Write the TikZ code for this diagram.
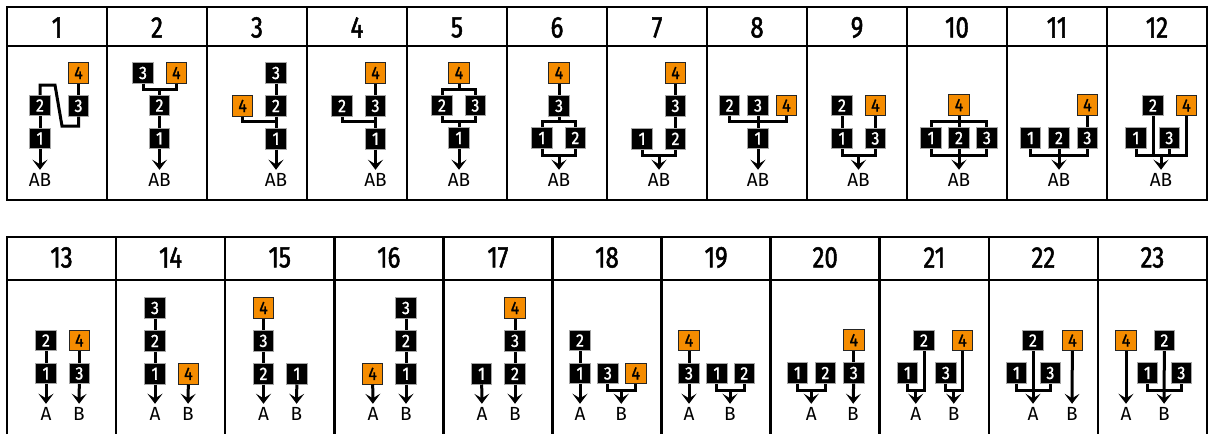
\documentclass[tikz,border=0pt]{standalone}
\usepackage{fontspec}
\setmainfont{Fira Sans}
\newfontfamily\hdfont[FakeStretch=0.8,FakeBold=1.6]{Fira Sans}
\newfontfamily\tilefont[FakeStretch=0.88,FakeBold=1.2]{Fira Sans}
\usepackage{tikz}
\usepackage{xcolor}
\usetikzlibrary{positioning,arrows.meta}
\definecolor{tileorange}{RGB}{245,140,0}

\begin{document}
\begin{tikzpicture}[
  x=1pt, y=-1pt,
  node distance=11.5pt and 12pt,
  rule/.style={line width=2.6pt, black},
  hd/.style={font=\hdfont\fontsize{30}{30}\selectfont, inner sep=0pt},
  blk/.style={rectangle, draw=gray!70, line width=0.9pt, fill=black, text=white, minimum size=20.5pt, inner sep=0pt, font=\tilefont\fontsize{18}{18}\selectfont},
  org/.style={blk, draw=black!85, fill=tileorange, text=black},
  wire/.style={line width=3pt, black},
  flow/.style={wire, -{Stealth[length=10pt,width=15pt,inset=4.5pt,line width=1pt]}},
  outlbl/.style={inner sep=3.5pt, font=\fontsize{19}{19}\selectfont}
]
\useasboundingbox (0,0) rectangle (1208,434);

% tables
\draw[rule] (7,7) rectangle (1207,200);
\draw[rule] (7,46) -- (1207,46);
\foreach \k in {1,...,11} \draw[rule] (7+100*\k,7) -- (7+100*\k,200);
\foreach \k in {1,...,12} \node[hd] (h\k) at (100*\k-43,27.5) {\k};
\draw[rule] (7,434) -- (7,237) -- (1207,237) -- (1207,434);
\draw[rule] (7,280) -- (1207,280);
\foreach \k in {1,...,10} \draw[rule] (7+109.0909*\k,237) -- (7+109.0909*\k,434);
\foreach \k in {13,...,23} \node[hd] (h\k) at (61.545+109.0909*\k-1418.18,257.5) {\k};

% 1
\node[org] (p1-4) at (78.5,73) {4};
\node[blk, below=of p1-4] (p1-3) {3};
\node[blk] (p1-2) at (40,105.5) {2};
\node[blk, below=of p1-2] (p1-1) {1};
\node[outlbl] (p1-o) at (40,180) {AB};
\draw[wire] (p1-4) -- (p1-3) (p1-2) -- (p1-1);
\draw[wire] (p1-2) |- (55,85) -- (62,126) -| (p1-3);
\draw[flow] (p1-1) -- (p1-o);

% 2
\node[blk] (p2-3) at (143,73) {3};
\node[org, right=of p2-3] (p2-4) {4};
\node[blk] (p2-2) at (159.5,105.5) {2};
\node[blk, below=of p2-2] (p2-1) {1};
\node[outlbl] (p2-o) at (159.5,180) {AB};
\coordinate (p2-t) at (159.5,89.25);
\draw[wire] (p2-3) |- (p2-t) -| (p2-4);
\draw[wire] (p2-t) -- (p2-2) (p2-2) -- (p2-1);
\draw[flow] (p2-1) -- (p2-o);

% 3
\node[blk] (p3-3) at (276,73) {3};
\node[blk, below=of p3-3] (p3-2) {2};
\node[blk, below=of p3-2] (p3-1) {1};
\node[org, left=of p3-2] (p3-4) {4};
\node[outlbl] (p3-o) at (276,180) {AB};
\coordinate (p3-t) at (276,121.75);
\draw[wire] (p3-3) -- (p3-2) (p3-2) -- (p3-1);
\draw[wire] (p3-4) |- (p3-t);
\draw[flow] (p3-1) -- (p3-o);

% 4
\node[org] (p4-4) at (375.5,73) {4};
\node[blk, below=of p4-4] (p4-3) {3};
\node[blk, below=of p4-3] (p4-1) {1};
\node[blk, left=of p4-3] (p4-2) {2};
\node[outlbl] (p4-o) at (375.5,180) {AB};
\coordinate (p4-t) at (375.5,121.75);
\draw[wire] (p4-4) -- (p4-3) (p4-3) -- (p4-1);
\draw[wire] (p4-2) |- (p4-t);
\draw[flow] (p4-1) -- (p4-o);

% 5
\node[org] (p5-4) at (459,73) {4};
\node[blk] (p5-2) at (442,105.5) {2};
\node[blk, right=of p5-2] (p5-3) {3};
\node[blk] (p5-1) at (459,138) {1};
\node[outlbl] (p5-o) at (459,180) {AB};
\coordinate (p5-t) at (459,89.25);
\coordinate (p5-u) at (459,121.75);
\draw[wire] (p5-4) -- (p5-t);
\draw[wire] (p5-2) |- (p5-t) -| (p5-3);
\draw[wire] (p5-2) |- (p5-u) -| (p5-3);
\draw[wire] (p5-u) -- (p5-1);
\draw[flow] (p5-1) -- (p5-o);

% 6
\node[org] (p6-4) at (559,73) {4};
\node[blk, below=of p6-4] (p6-3) {3};
\node[blk] (p6-1) at (542,138) {1};
\node[blk, right=of p6-1] (p6-2) {2};
\node[outlbl] (p6-o) at (559,180) {AB};
\coordinate (p6-t) at (559,121.75);
\coordinate (p6-u) at (559,155);
\draw[wire] (p6-4) -- (p6-3) (p6-3) -- (p6-t);
\draw[wire] (p6-1) |- (p6-t) -| (p6-2);
\draw[wire] (p6-1) |- (p6-u) -| (p6-2);
\draw[flow] (p6-u) -- (p6-o);

% 7
\node[org] (p7-4) at (675.5,73) {4};
\node[blk, below=of p7-4] (p7-3) {3};
\node[blk, below=of p7-3] (p7-2) {2};
\node[blk, left=of p7-2] (p7-1) {1};
\node[outlbl] (p7-o) at (659,180) {AB};
\coordinate (p7-u) at (659,155);
\draw[wire] (p7-4) -- (p7-3) (p7-3) -- (p7-2);
\draw[wire] (p7-1) |- (p7-u) -| (p7-2);
\draw[flow] (p7-u) -- (p7-o);

% 8
\node[blk] (p8-3) at (758,105.5) {3};
\node[blk, left=7pt of p8-3] (p8-2) {2};
\node[org, right=7pt of p8-3] (p8-4) {4};
\node[blk, below=of p8-3] (p8-1) {1};
\node[outlbl] (p8-o) at (758,180) {AB};
\coordinate (p8-t) at (758,121.75);
\draw[wire] (p8-2) |- (p8-t) -| (p8-4);
\draw[wire] (p8-3) -- (p8-1);
\draw[flow] (p8-1) -- (p8-o);

% 9
\node[blk] (p9-2) at (842,105.5) {2};
\node[org, right=of p9-2] (p9-4) {4};
\node[blk, below=of p9-2] (p9-1) {1};
\node[blk, below=of p9-4] (p9-3) {3};
\node[outlbl] (p9-o) at (858.5,180) {AB};
\coordinate (p9-u) at (858.5,155);
\draw[wire] (p9-2) -- (p9-1) (p9-4) -- (p9-3);
\draw[wire] (p9-1) |- (p9-u) -| (p9-3);
\draw[flow] (p9-u) -- (p9-o);

% 10
\node[blk] (p10-2) at (959,138) {2};
\node[blk, left=6.5pt of p10-2] (p10-1) {1};
\node[blk, right=6.5pt of p10-2] (p10-3) {3};
\node[org, above=of p10-2] (p10-4) {4};
\node[outlbl] (p10-o) at (959,180) {AB};
\coordinate (p10-t) at (959,121.75);
\coordinate (p10-u) at (959,155);
\draw[wire] (p10-4) -- (p10-2);
\draw[wire] (p10-1) |- (p10-t) -| (p10-3);
\draw[wire] (p10-1) |- (p10-u) -| (p10-3);
\draw[wire] (p10-2) -- (p10-u);
\draw[flow] (p10-u) -- (p10-o);

% 11
\node[blk] (p11-2) at (1059,138) {2};
\node[blk, left=7pt of p11-2] (p11-1) {1};
\node[blk, right=7pt of p11-2] (p11-3) {3};
\node[org, above=of p11-3] (p11-4) {4};
\node[outlbl] (p11-o) at (1059,180) {AB};
\coordinate (p11-u) at (1059,155);
\draw[wire] (p11-4) -- (p11-3);
\draw[wire] (p11-1) |- (p11-u) -| (p11-3);
\draw[wire] (p11-2) -- (p11-u);
\draw[flow] (p11-u) -- (p11-o);

% 12
\node[blk] (p12-2) at (1153,105.5) {2};
\node[org, right=of p12-2] (p12-4) {4};
\node[blk] (p12-1) at (1136,138) {1};
\node[blk, right=of p12-1] (p12-3) {3};
\node[outlbl] (p12-o) at (1161,180) {AB};
\coordinate (p12-u) at (1161,155);
\draw[wire] (p12-1) |- (p12-u) -| (p12-4);
\draw[wire] (p12-2) -- (p12-2 |- p12-u);
\draw[wire] (p12-3) -- (p12-3 |- p12-u);
\draw[flow] (p12-u) -- (p12-o);

% 13
\node[blk] (p13-2) at (46,340.5) {2};
\node[org, right=of p13-2] (p13-4) {4};
\node[blk, below=of p13-2] (p13-1) {1};
\node[blk, below=of p13-4] (p13-3) {3};
\node[outlbl] (p13-a) at (46,414) {A};
\node[outlbl] (p13-b) at (79,414) {B};
\draw[wire] (p13-2) -- (p13-1) (p13-4) -- (p13-3);
\draw[flow] (p13-1) -- (p13-a);
\draw[flow] (p13-3) -- (p13-b);

% 14
\node[blk] (p14-3) at (155,308) {3};
\node[blk, below=of p14-3] (p14-2) {2};
\node[blk, below=of p14-2] (p14-1) {1};
\node[org, right=of p14-1] (p14-4) {4};
\node[outlbl] (p14-a) at (155,414) {A};
\node[outlbl] (p14-b) at (188,414) {B};
\draw[wire] (p14-3) -- (p14-2) (p14-2) -- (p14-1);
\draw[flow] (p14-1) -- (p14-a);
\draw[flow] (p14-4) -- (p14-b);

% 15
\node[org] (p15-4) at (263.5,308) {4};
\node[blk, below=of p15-4] (p15-3) {3};
\node[blk, below=of p15-3] (p15-2) {2};
\node[blk, right=of p15-2] (p15-1) {1};
\node[outlbl] (p15-a) at (263.5,414) {A};
\node[outlbl] (p15-b) at (296.5,414) {B};
\draw[wire] (p15-4) -- (p15-3) (p15-3) -- (p15-2);
\draw[flow] (p15-2) -- (p15-a);
\draw[flow] (p15-1) -- (p15-b);

% 16
\node[blk] (p16-3) at (406,308) {3};
\node[blk, below=of p16-3] (p16-2) {2};
\node[blk, below=of p16-2] (p16-1) {1};
\node[org, left=of p16-1] (p16-4) {4};
\node[outlbl] (p16-a) at (373,414) {A};
\node[outlbl] (p16-b) at (406,414) {B};
\draw[wire] (p16-3) -- (p16-2) (p16-2) -- (p16-1);
\draw[flow] (p16-4) -- (p16-a);
\draw[flow] (p16-1) -- (p16-b);

% 17
\node[org] (p17-4) at (515,308) {4};
\node[blk, below=of p17-4] (p17-3) {3};
\node[blk, below=of p17-3] (p17-2) {2};
\node[blk, left=of p17-2] (p17-1) {1};
\node[outlbl] (p17-a) at (482,414) {A};
\node[outlbl] (p17-b) at (515,414) {B};
\draw[wire] (p17-4) -- (p17-3) (p17-3) -- (p17-2);
\draw[flow] (p17-1) -- (p17-a);
\draw[flow] (p17-2) -- (p17-b);

% 18
\node[blk] (p18-2) at (580,340.5) {2};
\node[blk, below=of p18-2] (p18-1) {1};
\node[blk, right=6.5pt of p18-1] (p18-3) {3};
\node[org, right=6.5pt of p18-3] (p18-4) {4};
\node[outlbl] (p18-a) at (580,414) {A};
\node[outlbl] (p18-b) at (621.25,414) {B};
\coordinate (p18-u) at (621.25,390);
\draw[wire] (p18-2) -- (p18-1);
\draw[wire] (p18-3) |- (p18-u) -| (p18-4);
\draw[flow] (p18-1) -- (p18-a);
\draw[flow] (p18-u) -- (p18-b);

% 19
\node[org] (p19-4) at (689,340.5) {4};
\node[blk, below=of p19-4] (p19-3) {3};
\node[blk, right=6.5pt of p19-3] (p19-1) {1};
\node[blk, right=6pt of p19-1] (p19-2) {2};
\node[outlbl] (p19-a) at (689,414) {A};
\node[outlbl] (p19-b) at (730,414) {B};
\coordinate (p19-u) at (730,390);
\draw[wire] (p19-4) -- (p19-3);
\draw[wire] (p19-1) |- (p19-u) -| (p19-2);
\draw[flow] (p19-3) -- (p19-a);
\draw[flow] (p19-u) -- (p19-b);

% 20
\node[blk] (p20-1) at (797.5,373) {1};
\node[blk, right=6.5pt of p20-1] (p20-2) {2};
\node[blk, right=7pt of p20-2] (p20-3) {3};
\node[org, above=of p20-3] (p20-4) {4};
\node[outlbl] (p20-a) at (811.25,414) {A};
\node[outlbl] (p20-b) at (853,414) {B};
\coordinate (p20-u) at (811.25,390);
\draw[wire] (p20-1) |- (p20-u) -| (p20-2);
\draw[wire] (p20-4) -- (p20-3);
\draw[flow] (p20-u) -- (p20-a);
\draw[flow] (p20-3) -- (p20-b);

% 21
\node[blk] (p21-2) at (924,340.5) {2};
\node[org, right=17pt of p21-2] (p21-4) {4};
\node[blk] (p21-1) at (907.5,373) {1};
\node[blk, right=17pt of p21-1] (p21-3) {3};
\node[outlbl] (p21-a) at (915.75,414) {A};
\node[outlbl] (p21-b) at (953.75,414) {B};
\coordinate (p21-u) at (915.75,390);
\coordinate (p21-v) at (953.75,390);
\draw[wire] (p21-1) |- (p21-u) -| (p21-2);
\draw[wire] (p21-3) |- (p21-v) -| (p21-4);
\draw[flow] (p21-u) -- (p21-a);
\draw[flow] (p21-v) -- (p21-b);

% 22
\node[blk] (p22-2) at (1033,340.5) {2};
\node[org, right=18pt of p22-2] (p22-4) {4};
\node[blk] (p22-1) at (1016.5,373) {1};
\node[blk, right=12.5pt of p22-1] (p22-3) {3};
\node[outlbl] (p22-a) at (1033,414) {A};
\node[outlbl] (p22-b) at (1072,414) {B};
\coordinate (p22-u) at (1033,390);
\draw[wire] (p22-1) |- (p22-u) -| (p22-3);
\draw[flow] (p22-2) -- (p22-a);
\draw[flow] (p22-4) -- (p22-b);

% 23
\node[org] (p23-4) at (1126,340.5) {4};
\node[blk, right=17pt of p23-4] (p23-2) {2};
\node[blk] (p23-1) at (1147.5,373) {1};
\node[blk, right=12.5pt of p23-1] (p23-3) {3};
\node[outlbl] (p23-a) at (1126,414) {A};
\node[outlbl] (p23-b) at (1164,414) {B};
\coordinate (p23-u) at (1164,390);
\draw[wire] (p23-1) |- (p23-u) -| (p23-3);
\draw[flow] (p23-4) -- (p23-a);
\draw[flow] (p23-2) -- (p23-b);
\end{tikzpicture}
\end{document}
